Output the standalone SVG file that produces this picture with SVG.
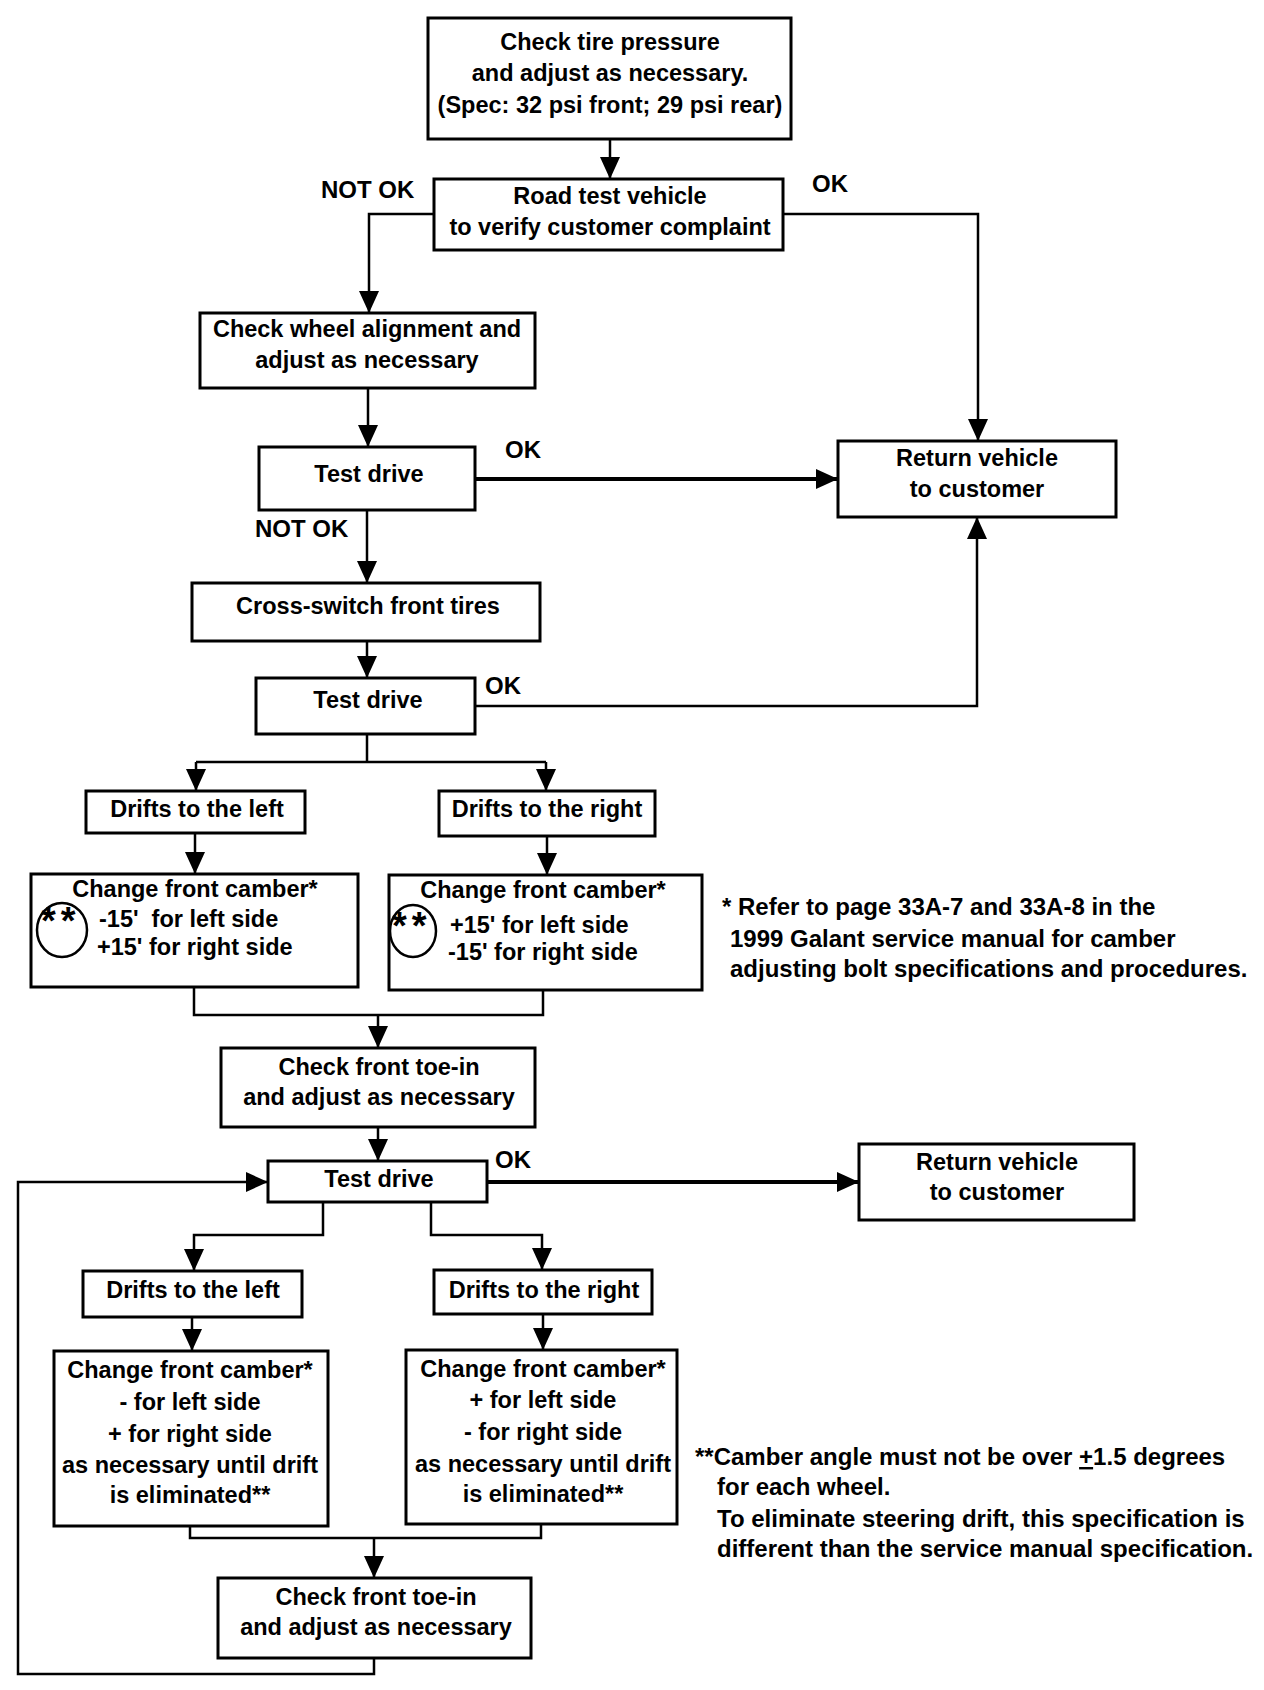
<svg xmlns="http://www.w3.org/2000/svg" width="1264" height="1690" viewBox="0 0 1264 1690">
<style>
.box{fill:#fff;stroke:#000;stroke-width:3}
.t{font-family:"Liberation Sans",Arial,sans-serif;font-size:23.5px;font-weight:bold;fill:#000}
.f{font-size:24px}
.m{text-anchor:middle}
.c{fill:none;stroke:#000;stroke-width:2.5}
.k{fill:none;stroke:#000;stroke-width:4}
.a{marker-end:url(#ah)}
.ring{fill:none;stroke:#000;stroke-width:2.5}
.st{font-family:"Liberation Sans",Arial,sans-serif;font-size:38px;font-weight:bold;letter-spacing:5px}
</style>
<defs>
<marker id="ah" viewBox="0 0 22 20" refX="22" refY="10" markerWidth="22" markerHeight="20" markerUnits="userSpaceOnUse" orient="auto">
<path d="M0,0 L22,10 L0,20 z" fill="#000"/>
</marker>
</defs>
<rect width="1264" height="1690" fill="#fff"/>

<g id="connectors">
<path class="c a" d="M610,139 V179"/>
<path class="c a" d="M434,214 H369 V313"/>
<path class="c a" d="M783,214 H978 V441"/>
<path class="c a" d="M368,388 V447"/>
<path class="k a" d="M475,479 H838"/>
<path class="c a" d="M367,510 V583"/>
<path class="c a" d="M367,641 V678"/>
<path class="c a" d="M475,706 H977 V517"/>
<path class="c" d="M367,734 V762 M196,762 H546"/>
<path class="c a" d="M196,762 V791"/>
<path class="c a" d="M546,762 V791"/>
<path class="c a" d="M195,833 V874"/>
<path class="c a" d="M547,836 V875"/>
<path class="c" d="M194,987 V1015 H543 V990"/>
<path class="c a" d="M378,1015 V1048"/>
<path class="c a" d="M378,1127 V1161"/>
<path class="k a" d="M487,1182 H859"/>
<path class="c a" d="M323,1202 V1235 H194 V1271"/>
<path class="c a" d="M431,1202 V1235 H542 V1270"/>
<path class="c a" d="M192,1317 V1351"/>
<path class="c a" d="M543,1314 V1350"/>
<path class="c" d="M190,1526 V1538 H541 V1524"/>
<path class="c a" d="M374,1538 V1578"/>
<path class="c a" d="M374,1658 V1674 H18 V1182 H268"/>
</g>

<g id="labels">
<text class="t f" x="321" y="198">NOT OK</text>
<text class="t f" x="812" y="192">OK</text>
<text class="t f" x="505" y="458">OK</text>
<text class="t f" x="255" y="537">NOT OK</text>
<text class="t f" x="485" y="694">OK</text>
<text class="t f" x="495" y="1168">OK</text>
</g>

<g id="n1">
<rect class="box" x="428" y="18" width="363" height="121"/>
<text class="t m" x="610" y="50">Check tire pressure</text>
<text class="t m" x="610" y="81">and adjust as necessary.</text>
<text class="t m" x="610" y="113">(Spec: 32 psi front; 29 psi rear)</text>
</g>

<g id="n2">
<rect class="box" x="434" y="179" width="349" height="71"/>
<text class="t m" x="610" y="204">Road test vehicle</text>
<text class="t m" x="610" y="235">to verify customer complaint</text>
</g>

<g id="n3">
<rect class="box" x="200" y="313" width="335" height="75"/>
<text class="t m" x="367" y="337">Check wheel alignment and</text>
<text class="t m" x="367" y="368">adjust as necessary</text>
</g>

<g id="n4">
<rect class="box" x="259" y="447" width="216" height="63"/>
<text class="t m" x="369" y="482">Test drive</text>
</g>

<g id="n5">
<rect class="box" x="838" y="441" width="278" height="76"/>
<text class="t m" x="977" y="466">Return vehicle</text>
<text class="t m" x="977" y="497">to customer</text>
</g>

<g id="n6">
<rect class="box" x="192" y="583" width="348" height="58"/>
<text class="t m" x="368" y="614">Cross-switch front tires</text>
</g>

<g id="n7">
<rect class="box" x="256" y="678" width="219" height="56"/>
<text class="t m" x="368" y="708">Test drive</text>
</g>

<g id="n8">
<rect class="box" x="86" y="791" width="219" height="42"/>
<text class="t m" x="197" y="817">Drifts to the left</text>
</g>

<g id="n9">
<rect class="box" x="439" y="791" width="216" height="45"/>
<text class="t m" x="547" y="817">Drifts to the right</text>
</g>

<g id="n10">
<rect class="box" x="31" y="874" width="327" height="113"/>
<text class="t m" x="195" y="897">Change front camber*</text>
<ellipse class="ring" cx="62" cy="930" rx="25" ry="27"/>
<text class="st" x="41" y="934">**</text>
<text class="t" x="99" y="927">-15'&#160; for left side</text>
<text class="t" x="97" y="955">+15' for right side</text>
</g>

<g id="n11">
<rect class="box" x="389" y="875" width="313" height="115"/>
<text class="t m" x="543" y="898">Change front camber*</text>
<ellipse class="ring" cx="413" cy="931" rx="23" ry="26"/>
<text class="st" x="392" y="939">**</text>
<text class="t" x="450" y="933">+15' for left side</text>
<text class="t" x="448" y="960">-15' for right side</text>
</g>

<g id="note1">
<text class="t f" x="722" y="915">* Refer to page 33A-7 and 33A-8 in the</text>
<text class="t f" x="730" y="947">1999 Galant service manual for camber</text>
<text class="t f" x="730" y="977">adjusting bolt specifications and procedures.</text>
</g>

<g id="n12">
<rect class="box" x="221" y="1048" width="314" height="79"/>
<text class="t m" x="379" y="1075">Check front toe-in</text>
<text class="t m" x="379" y="1105">and adjust as necessary</text>
</g>

<g id="n13">
<rect class="box" x="268" y="1161" width="219" height="41"/>
<text class="t m" x="379" y="1187">Test drive</text>
</g>

<g id="n14">
<rect class="box" x="859" y="1144" width="275" height="76"/>
<text class="t m" x="997" y="1170">Return vehicle</text>
<text class="t m" x="997" y="1200">to customer</text>
</g>

<g id="n15">
<rect class="box" x="83" y="1271" width="219" height="46"/>
<text class="t m" x="193" y="1298">Drifts to the left</text>
</g>

<g id="n16">
<rect class="box" x="434" y="1270" width="218" height="44"/>
<text class="t m" x="544" y="1298">Drifts to the right</text>
</g>

<g id="n17">
<rect class="box" x="54" y="1351" width="274" height="175"/>
<text class="t m" x="190" y="1378">Change front camber*</text>
<text class="t m" x="190" y="1410">- for left side</text>
<text class="t m" x="190" y="1442">+ for right side</text>
<text class="t m" x="190" y="1473">as necessary until drift</text>
<text class="t m" x="190" y="1503">is eliminated**</text>
</g>

<g id="n18">
<rect class="box" x="406" y="1350" width="271" height="174"/>
<text class="t m" x="543" y="1377">Change front camber*</text>
<text class="t m" x="543" y="1408">+ for left side</text>
<text class="t m" x="543" y="1440">- for right side</text>
<text class="t m" x="543" y="1472">as necessary until drift</text>
<text class="t m" x="543" y="1502">is eliminated**</text>
</g>

<g id="note2">
<text class="t f" x="695" y="1465">**Camber angle must not be over <tspan text-decoration="underline">+</tspan>1.5 degrees</text>
<text class="t f" x="717" y="1495">for each wheel.</text>
<text class="t f" x="717" y="1527">To eliminate steering drift, this specification is</text>
<text class="t f" x="717" y="1557">different than the service manual specification.</text>
</g>

<g id="n19">
<rect class="box" x="218" y="1578" width="313" height="80"/>
<text class="t m" x="376" y="1605">Check front toe-in</text>
<text class="t m" x="376" y="1635">and adjust as necessary</text>
</g>
</svg>
